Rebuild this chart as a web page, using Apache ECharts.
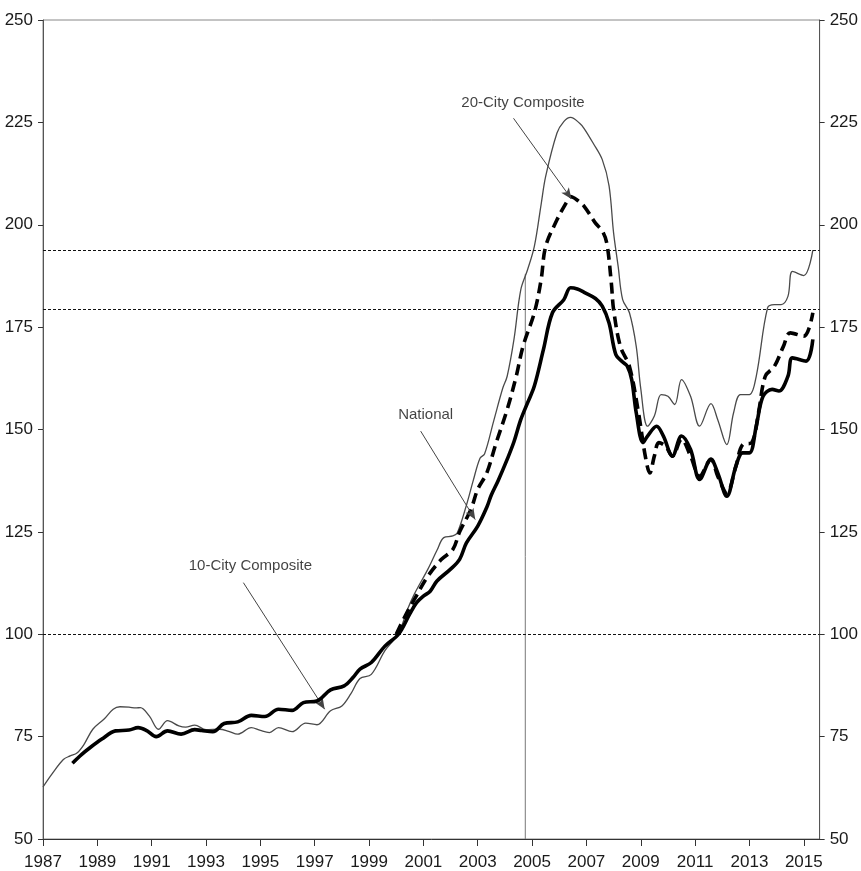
<!DOCTYPE html>
<html>
<head>
<meta charset="utf-8">
<script src="https://cdn.jsdelivr.net/npm/echarts@6/dist/echarts.min.js"></script>
<style>
html,body{margin:0;padding:0;background:#fff;}
#chart{width:861px;height:871px;}
</style>
</head>
<body>
<div id="chart"></div>
<script>
// x values are months since January 1987
const startYear = 1987;
const yTicks = [50, 75, 100, 125, 150, 175, 200, 225, 250];

const tenCity = [
[0,62.7],[4,65.9],[9,69.4],[12,70.3],[15,71.0],[18,73.0],[22,76.8],[27,79.3],[31,81.7],[34,82.3],[38,82.2],[41,82.0],[43,82.1],[47,80.0],[51,76.8],[55,78.9],[60,77.6],[63,77.3],[67,77.8],[72,76.7],[78,76.8],[82,76.3],[86,75.6],[92,77.2],[96,76.5],[100,76.0],[104,77.2],[110,76.2],[116,78.3],[121,77.9],[127,81.3],[132,82.5],[136,85.5],[140,89.2],[145,90.2],[151,96.0],[157,100.2],[161,106.1],[164,109.8],[170,115.9],[174,120.5],[177,123.6],[181,124.0],[183,124.8],[187,131.5],[190,137.5],[193,143.0],[195,144.0],[199,152.0],[203,160.0],[205,163.0],[208,172.0],[211,184.1],[214,189.0],[217,194.7],[220,205.0],[222,211.8],[227,222.4],[230,225.2],[233,226.2],[237,224.8],[239,223.5],[243,219.9],[247,215.9],[250,209.5],[252,198.0],[254,189.9],[256,181.7],[259,178.5],[262,170.3],[264,160.0],[267,150.8],[270,153.3],[273,158.5],[276,158.1],[279,156.1],[282,162.2],[286,158.1],[290,150.8],[295,156.3],[298,152.4],[302,146.3],[305,154.1],[308,158.5],[312,158.5],[315,163.0],[320,179.7],[323,180.5],[326,180.5],[329,182.5],[331,188.6],[336,187.6],[340,193.8]
];

const national = [
[13,68.5],[17,70.6],[21,72.4],[26,74.4],[32,76.4],[38,76.6],[42,77.2],[46,76.4],[50,75.0],[55,76.4],[61,75.6],[67,76.7],[70,76.5],[75,76.2],[80,78.2],[86,78.6],[92,80.2],[98,79.9],[104,81.7],[110,81.4],[115,83.3],[121,83.7],[127,86.4],[133,87.4],[137,89.5],[140,91.5],[145,93.1],[151,97.1],[157,100.0],[162,105.0],[165,107.7],[168,109.3],[171,110.5],[174,113.0],[180,115.9],[184,118.3],[187,122.3],[192,126.4],[196,131.0],[198,134.0],[201,137.5],[205,142.7],[208,147.0],[211,152.4],[214,156.5],[217,160.6],[221,169.5],[225,178.5],[230,181.7],[233,184.6],[236,184.3],[239,183.5],[244,182.0],[247,180.1],[250,176.0],[253,168.3],[256,166.5],[258,165.5],[260,162.2],[262,154.1],[265,146.8],[267,148.4],[271,150.8],[274,148.4],[278,143.5],[282,148.4],[286,145.1],[290,137.8],[295,142.7],[298,139.4],[302,133.7],[306,141.0],[309,144.3],[312,144.3],[315,150.8],[318,158.1],[322,159.8],[325,159.4],[329,163.0],[331,167.5],[337,166.7],[340,172.0]
];

const twentyCity = [
[156,100.0],[160,104.5],[164,108.5],[170,114.2],[176,118.3],[181,120.7],[184,125.0],[189,130.5],[192,135.4],[196,139.4],[200,146.5],[205,154.9],[209,163.0],[212,170.3],[217,178.5],[220,186.6],[222,194.7],[227,201.2],[231,205.3],[233,206.9],[236,206.0],[239,204.5],[244,200.4],[247,198.5],[249,195.5],[251,185.8],[252,179.3],[255,170.3],[259,165.4],[263,154.1],[266,143.5],[268,139.4],[270,143.5],[272,146.8],[275,145.9],[278,143.5],[282,147.6],[286,143.5],[290,138.6],[295,142.7],[298,138.6],[302,134.5],[306,141.0],[309,146.3],[313,146.8],[316,154.1],[319,163.0],[323,165.4],[327,170.3],[330,173.6],[336,172.8],[340,178.5]
];

// reference levels: base 100 and latest 10-City / 20-City readings
const refLevels = [100, 193.8, 179.3];
// vertical marker month and the value where it stops
const markerMonth = 213;
const markerTop = 188;

// annotations: label point, arrow start, arrow end (data coordinates)
const annotationText = ['20-City Composite', 'National', '10-City Composite'];
const annotationLabelAt = [[212, 229.8], [169, 153.5], [91.6, 116.6]];
const annotationFrom = [[207.8, 226.0], [166.8, 149.6], [88.5, 112.6]];
const annotationTo = [[233.4, 206.3], [190.9, 128.0], [124.4, 81.7]];

const FONT = "'Liberation Sans Narrow', 'Arial Narrow', 'Liberation Sans', Arial, sans-serif";

const chart = echarts.init(document.getElementById('chart'), null, {renderer: 'canvas'});

const yAxisBase = (pos) => ({
  type: 'value', position: pos, min: 50, max: 250, interval: 25,
  axisLine: {show: true, lineStyle: {color: '#555', width: 1}},
  axisTick: {show: true, length: 5, inside: false, lineStyle: {color: '#333'}},
  axisLabel: {show: true, margin: 10, fontFamily: FONT, fontSize: 17, color: '#1a1a1a'},
  splitLine: {show: false}
});

chart.setOption({
  animation: false,
  backgroundColor: '#fff',
  grid: {left: 43, right: 36, top: 20, bottom: 31, show: true, borderColor: '#888', borderWidth: 1, containLabel: false},
  xAxis: {
    type: 'value', min: 0, max: 343, interval: 24,
    axisLine: {show: true, onZero: false, lineStyle: {color: '#333', width: 1}},
    axisTick: {show: true, length: 7, lineStyle: {color: '#333'}},
    axisLabel: {
      margin: 15, fontFamily: FONT, fontSize: 17, color: '#1a1a1a', showMaxLabel: false,
      formatter: v => (v % 24 === 0 ? String(startYear + v / 12) : '')
    },
    splitLine: {show: false}
  },
  yAxis: [yAxisBase('left'), yAxisBase('right')],
  series: [
    {
      name: 'refs', type: 'line', data: [], silent: true,
      markLine: {
        silent: true, symbol: ['none', 'none'], label: {show: false},
        lineStyle: {color: '#111', width: 1, type: [3, 2]},
        data: refLevels.map(v => ({yAxis: v}))
      }
    },
    {
      name: 'marker', type: 'line', showSymbol: false, symbol: 'none',
      data: [[markerMonth, 50], [markerMonth, markerTop]],
      lineStyle: {color: '#777', width: 1}, z: 1
    },
    {
      name: '10-City Composite', type: 'line', data: tenCity, showSymbol: false, symbol: 'none',
      smooth: 0.35, lineStyle: {color: '#4a4a4a', width: 1.3}, z: 3
    },
    {
      name: '20-City Composite', type: 'line', data: twentyCity, showSymbol: false, symbol: 'none',
      smooth: 0.35, lineStyle: {color: '#000', width: 3.6, type: [11, 6], cap: 'butt'}, z: 4
    },
    {
      name: 'National', type: 'line', data: national, showSymbol: false, symbol: 'none',
      smooth: 0.35, lineStyle: {color: '#000', width: 3.6}, z: 5
    },
    {
      name: 'arrows', type: 'line', data: [], silent: true,
      markLine: {
        silent: true, symbol: ['none', 'arrow'], symbolSize: [7, 11], label: {show: false},
        lineStyle: {color: '#444', width: 1, type: 'solid'},
        data: annotationFrom.map((f, i) => [{coord: f}, {coord: annotationTo[i]}])
      },
      z: 6
    },
    {
      name: 'labels', type: 'scatter', symbolSize: 0, silent: true,
      data: annotationLabelAt.map((p, i) => ({value: p, name: annotationText[i]})),
      label: {show: true, position: 'inside', formatter: p => p.name, fontFamily: FONT, fontSize: 15, color: '#111'},
      z: 7
    }
  ]
});
</script>
</body>
</html>
